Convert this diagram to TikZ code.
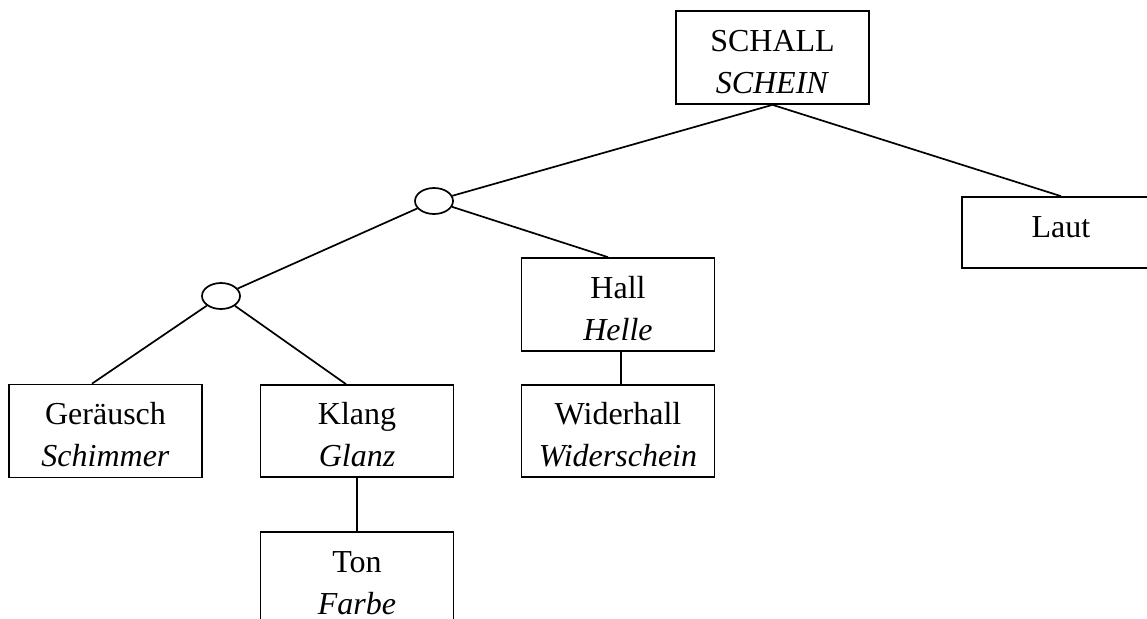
\documentclass[tikz,border=0pt]{standalone}
\usepackage{fontspec}
\setmainfont{Liberation Serif}
\usetikzlibrary{shapes.geometric}
\newcommand{\toprule}{\rule{0pt}{30pt}}
\begin{document}
\begin{tikzpicture}[x=1pt,y=-1pt,
  box/.style={draw,line width=1.7pt,minimum width=193pt,minimum height=93pt,inner sep=0pt,
    align=center,font=\fontsize{32}{42}\selectfont},
  knot/.style={draw,ellipse,line width=1.7pt,minimum width=38pt,minimum height=26pt,inner sep=0pt},
  link/.style={line width=1.7pt}]
\useasboundingbox (0,0) rectangle (1147,618);
\clip (0,0) rectangle (1147,618);
\node[box] (schall) at (772.5,57.5) {\toprule SCHALL\\\textit{SCHEIN}};
\node[box,minimum width=198pt,minimum height=71pt] (laut) at (1061,232.5) {\rule[-10pt]{0pt}{10pt}Laut};
\node[knot] (e1) at (434,201) {};
\node[knot] (e2) at (221,296) {};
\node[box] (hall) at (618,304.5) {\toprule Hall\\\textit{Helle}};
\node[box,minimum height=92pt] (widerhall) at (618,431) {\toprule Widerhall\\\textit{Widerschein}};
\node[box] (geraeusch) at (105.5,431) {\toprule Geräusch\\\textit{Schimmer}};
\node[box,minimum height=92pt] (klang) at (357,431) {\toprule Klang\\\textit{Glanz}};
\node[box] (ton) at (357,578.5) {\toprule Ton\\\textit{Farbe}};
\draw[link] (schall.south) -- (e1);
\draw[link] (schall.south) -- (laut.north);
\draw[link] (e1) -- ([xshift=-10pt]hall.north);
\draw[link] (e1) -- (e2);
\draw[link] (e2) -- ([xshift=-13.5pt]geraeusch.north);
\draw[link] (e2) -- ([xshift=-11pt]klang.north);
\draw[link] ([xshift=3pt]hall.south) -- ([xshift=3pt]widerhall.north);
\draw[link] (klang.south) -- (ton.north);
\end{tikzpicture}
\end{document}
